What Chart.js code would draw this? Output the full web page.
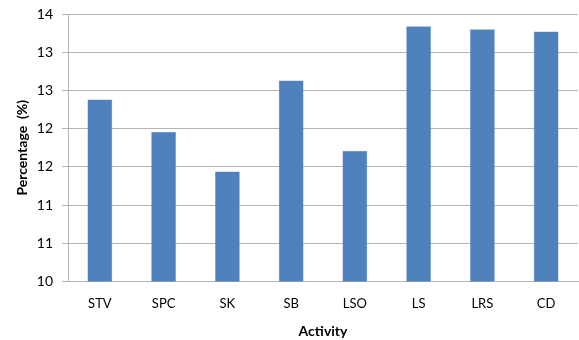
<!DOCTYPE html>
<html>
<head>
<meta charset="utf-8">
<script src="https://cdn.jsdelivr.net/npm/chart.js@4.4.1/dist/chart.umd.min.js"></script>
<style>
  html, body { margin: 0; padding: 0; background: #fff; }
  #wrap { width: 579px; height: 340px; position: relative; }
</style>
</head>
<body>
<div id="wrap"><canvas id="c" width="579" height="340"></canvas></div>
<script>
// Share of time spent on each activity
const activities = ['STV', 'SPC', 'SK', 'SB', 'LSO', 'LS', 'LRS', 'CD'];
const percentages = [12.38, 11.96, 11.44, 12.63, 11.71, 13.34, 13.30, 13.27];
// Axis labels are shown rounded to whole numbers
const yTickLabels = ['10', '11', '11', '12', '12', '13', '13', '14'];

const FONT = 'Lato, "Open Sans", sans-serif';
const gridGrey = '#b4b4b4';

new Chart(document.getElementById('c'), {
  type: 'bar',
  data: {
    labels: activities,
    datasets: [{
      data: percentages,
      backgroundColor: '#4f81bd',
      borderColor: '#6f95c8',
      borderWidth: 0.5,
      categoryPercentage: 1.0,
      barPercentage: 0.39
    }]
  },
  options: {
    responsive: false,
    animation: false,
    devicePixelRatio: 1,
    layout: { padding: { top: 14, right: 1, left: 0, bottom: 0 } },
    plugins: { legend: { display: false }, tooltip: { enabled: false } },
    scales: {
      x: {
        grid: { display: false, drawTicks: false },
        border: { display: true, color: gridGrey, width: 1 },
        ticks: { color: '#000', font: { family: FONT, size: 13 }, padding: 15 },
        title: {
          display: true, text: 'Activity', color: '#000',
          font: { family: FONT, size: 14, weight: 'bold' },
          padding: { top: 7, bottom: 0 }
        },
        afterFit: s => { s.height = 58.5; s.paddingLeft = 0; s.paddingRight = 0; }
      },
      y: {
        min: 10, max: 13.5,
        grid: { color: gridGrey, lineWidth: 1, tickLength: 6, drawTicks: true },
        border: { display: true, color: gridGrey, width: 1 },
        ticks: {
          stepSize: 0.5, color: '#000', padding: 9,
          font: { family: FONT, size: 14 },
          callback: (v, i) => yTickLabels[i]
        },
        title: {
          display: true, text: 'Percentage  (%)', color: '#000',
          font: { family: FONT, size: 14, weight: 'bold' },
          padding: { top: 14, bottom: 0 }
        },
        afterFit: s => { s.width = 68; s.paddingTop = 0; s.paddingBottom = 0; }
      }
    }
  }
});
</script>
</body>
</html>
